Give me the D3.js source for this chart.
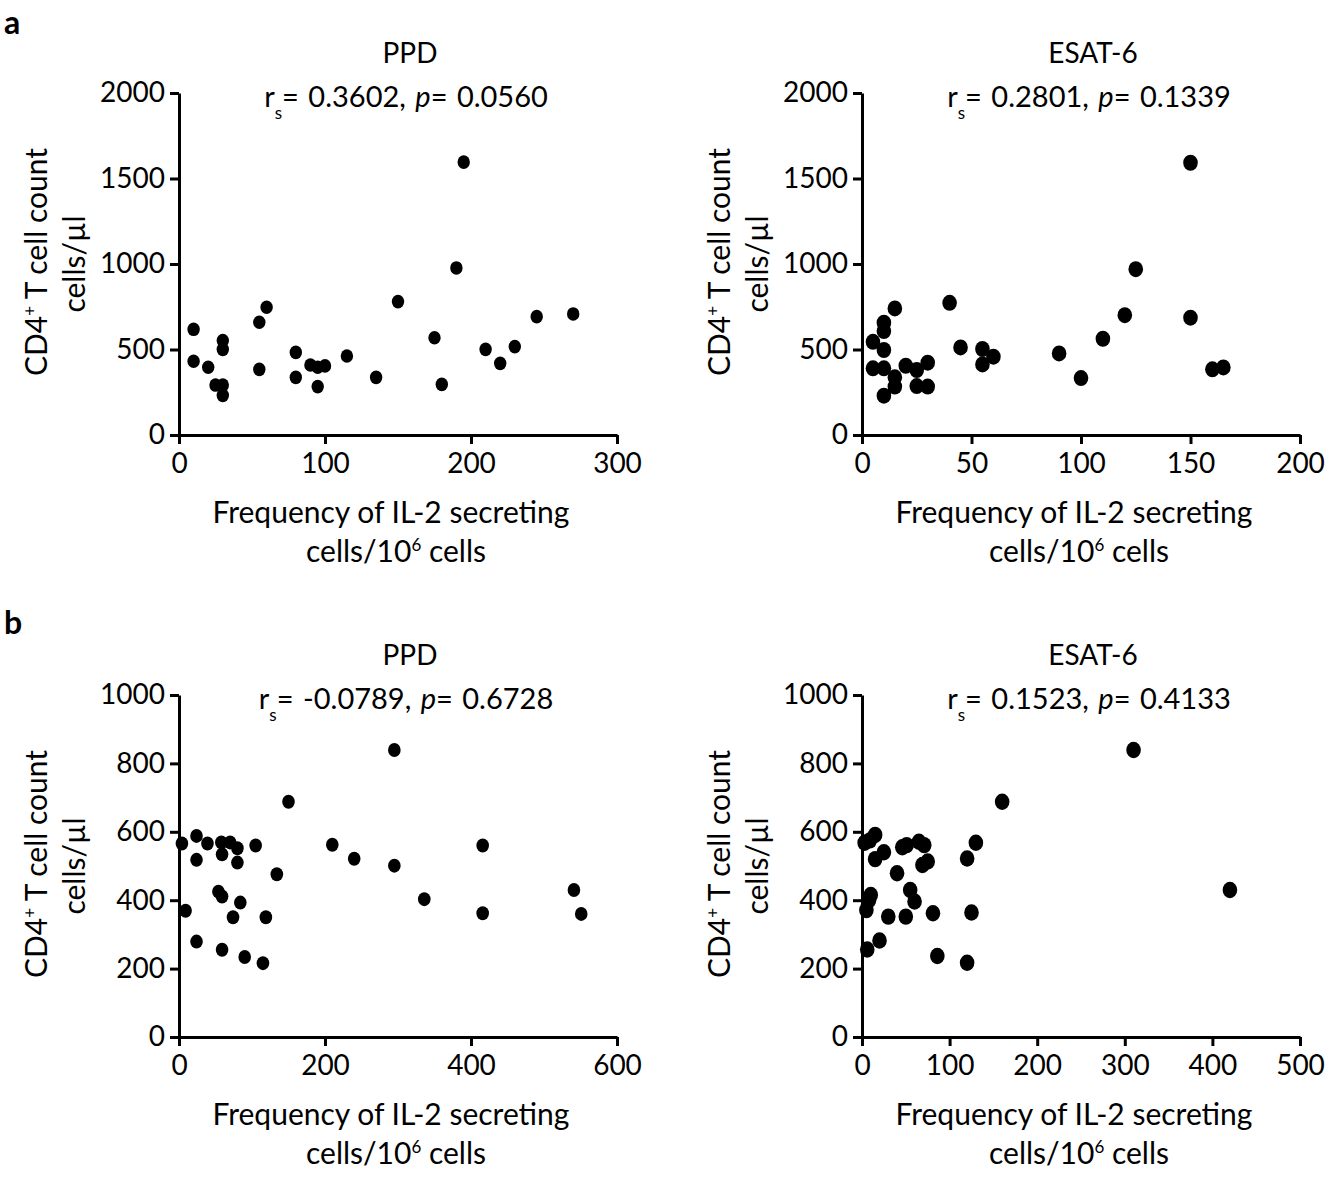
<!doctype html>
<html lang="en">
  <head>
    <meta charset="UTF-8" />
    <title>CD4 count vs IL-2 secreting cells</title>
    <style>
      body {
        margin: 0;
        background: #fff;
      }
      svg text {
        font-family: Lato, "Open Sans", sans-serif;
        fill: #000;
      }
      .axis path,
      .axis line {
        stroke: #000;
        stroke-width: 3px;
      }
      .axis text {
        font-size: 28px;
      }
    </style>
  </head>
  <body>
    <script src="https://d3js.org/d3.v7.min.js"></script>
    <script>
      // panel a: IL-2 frequency vs CD4 count
      const aPpdX = [10, 10, 20, 25, 30, 30, 30, 30, 55, 60, 55, 80, 80, 90, 95, 100, 95, 115, 135, 150, 175, 180, 190, 195, 210, 220, 230, 245, 270];
      const aPpdY = [618, 431, 396, 292, 292, 232, 552, 501, 659, 747, 384, 483, 337, 409, 396, 404, 283, 462, 337, 780, 569, 296, 977, 1596, 501, 419, 517, 692, 708];
      const aEsatX = [5, 5, 10, 10, 10, 10, 10, 15, 15, 15, 20, 25, 25, 30, 30, 40, 45, 55, 55, 60, 90, 100, 110, 120, 125, 150, 150, 160, 165];
      const aEsatY = [545, 390, 657, 608, 497, 390, 230, 740, 337, 283, 405, 380, 286, 423, 283, 773, 512, 503, 413, 458, 477, 333, 563, 701, 970, 1592, 686, 384, 395];

      // panel b
      const bPpdX = [4, 9, 24, 24, 24, 39, 58, 59, 70, 80, 80, 54, 59, 84, 74, 59, 90, 105, 119, 115, 134, 150, 210, 240, 295, 295, 336, 416, 416, 541, 551];
      const bPpdY = [566, 369, 588, 518, 279, 566, 569, 534, 569, 552, 510, 425, 411, 393, 350, 255, 234, 560, 350, 216, 476, 688, 562, 521, 839, 501, 403, 560, 362, 430, 360];
      const bEsatX = [3, 9, 15, 15, 25, 46, 51, 65, 71, 69, 75, 130, 120, 40, 10, 8, 5, 55, 60, 30, 50, 81, 125, 20, 6, 86, 120, 160, 310, 420];
      const bEsatY = [568, 575, 591, 520, 540, 555, 561, 571, 561, 503, 513, 568, 522, 479, 415, 400, 371, 430, 396, 352, 352, 362, 364, 282, 256, 237, 217, 688, 839, 430];

      const titles = ["PPD", "ESAT-6", "PPD", "ESAT-6"];
      const rsValues = ["0.3602", "0.2801", "-0.0789", "0.1523"];
      const pValues = ["0.0560", "0.1339", "0.6728", "0.4133"];
      const xTicksA1 = [0, 100, 200, 300];
      const xTicksA2 = [0, 50, 100, 150, 200];
      const xTicksB1 = [0, 200, 400, 600];
      const xTicksB2 = [0, 100, 200, 300, 400, 500];
      const yTicksA = [0, 500, 1000, 1500, 2000];
      const yTicksB = [0, 200, 400, 600, 800, 1000];

      const svg = d3
        .select("body")
        .append("svg")
        .attr("width", 1328)
        .attr("height", 1179);

      function drawPanel(cfg) {
        const x = d3.scaleLinear().domain(cfg.xDomain).range([cfg.left, cfg.left + 438]);
        const y = d3.scaleLinear().domain(cfg.yDomain).range([cfg.bottom, cfg.bottom - 342]);
        const g = svg.append("g");

        g.append("g")
          .attr("class", "axis")
          .attr("transform", `translate(0,${cfg.bottom})`)
          .call(d3.axisBottom(x).tickValues(cfg.xTicks).tickSize(9).tickSizeOuter(0).tickPadding(8).tickFormat(d3.format("d")))
          .call((s) => s.selectAll("text").attr("dy", "0.74em"));

        g.append("g")
          .attr("class", "axis")
          .attr("transform", `translate(${cfg.left},0)`)
          .call(d3.axisLeft(y).tickValues(cfg.yTicks).tickSize(9).tickSizeOuter(0).tickPadding(5).tickFormat(d3.format("d")));

        g.selectAll(".axis text").style("font-family", "Lato, sans-serif");

        // dots
        g.append("g")
          .selectAll("ellipse")
          .data(cfg.xs.map((v, i) => [v, cfg.ys[i]]))
          .join("ellipse")
          .attr("cx", (d) => x(d[0]))
          .attr("cy", (d) => y(d[1]))
          .attr("rx", cfg.rx)
          .attr("ry", cfg.ry)
          .attr("fill", "#000");

        // title
        const tx = cfg.left + 230;
        const top = cfg.bottom - 342;
        g.append("text")
          .attr("x", tx + 1)
          .attr("y", top - 30)
          .attr("text-anchor", "middle")
          .style("font-size", "28px")
          .text(cfg.title);

        const st = g.append("text")
          .attr("x", tx - 3)
          .attr("y", top + 14)
          .attr("text-anchor", "middle")
          .style("font-size", "29px")
          .style("word-spacing", "2px");
        st.append("tspan").text("r");
        st.append("tspan").attr("dy", 12).style("font-size", "17px").text("s");
        st.append("tspan").attr("dy", -12).text("= " + cfg.rs + ", ");
        st.append("tspan").style("font-style", "italic").text("p");
        st.append("tspan").text("= " + cfg.p);

        // x label
        const cx = cfg.left + 217;
        g.append("text")
          .attr("x", cx - 5)
          .attr("y", cfg.bottom + 88)
          .attr("text-anchor", "middle")
          .style("font-size", "30px")
          .text("Frequency of IL-2 secreting");
        const xl = g.append("text")
          .attr("x", cx)
          .attr("y", cfg.bottom + 127)
          .attr("text-anchor", "middle")
          .style("font-size", "30px");
        xl.append("tspan").text("cells/10");
        xl.append("tspan").attr("dy", -11).style("font-size", "17px").text("6");
        xl.append("tspan").attr("dy", 11).text(" cells");

        // y label
        const cy = cfg.bottom - 173;
        const yl = g.append("text")
          .attr("transform", `translate(${cfg.left - 132},${cy}) rotate(-90)`)
          .attr("text-anchor", "middle")
          .style("font-size", "30px");
        yl.append("tspan").text("CD4");
        yl.append("tspan").attr("dy", -11).style("font-size", "17px").text("+");
        yl.append("tspan").attr("dy", 11).text(" T cell count");
        g.append("text")
          .attr("transform", `translate(${cfg.left - 94},${cy + 2}) rotate(-90)`)
          .attr("text-anchor", "middle")
          .style("font-size", "30px")
          .text("cells/µl");
      }

      drawPanel({ left: 179, bottom: 435, xDomain: [0, 300], yDomain: [0, 2000], xTicks: xTicksA1, yTicks: yTicksA, xs: aPpdX, ys: aPpdY, title: titles[0], rs: rsValues[0], p: pValues[0], rx: 6.2, ry: 6.8 });
      drawPanel({ left: 862, bottom: 435, xDomain: [0, 200], yDomain: [0, 2000], xTicks: xTicksA2, yTicks: yTicksA, xs: aEsatX, ys: aEsatY, title: titles[1], rs: rsValues[1], p: pValues[1], rx: 7.3, ry: 8 });
      drawPanel({ left: 179, bottom: 1037, xDomain: [0, 600], yDomain: [0, 1000], xTicks: xTicksB1, yTicks: yTicksB, xs: bPpdX, ys: bPpdY, title: titles[2], rs: rsValues[2], p: pValues[2], rx: 6.3, ry: 7 });
      drawPanel({ left: 862, bottom: 1037, xDomain: [0, 500], yDomain: [0, 1000], xTicks: xTicksB2, yTicks: yTicksB, xs: bEsatX, ys: bEsatY, title: titles[3], rs: rsValues[3], p: pValues[3], rx: 7.3, ry: 8.2 });

      // panel letters
      svg.append("text").attr("x", 4).attr("y", 34).style("font-size", "32px").style("font-weight", "bold").text("a");
      svg.append("text").attr("x", 4).attr("y", 634).style("font-size", "32px").style("font-weight", "bold").text("b");
    </script>
  </body>
</html>
